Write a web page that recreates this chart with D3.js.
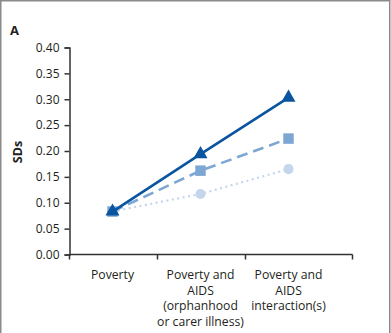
<!DOCTYPE html>
<html><head><meta charset="utf-8">
<script src="https://cdn.jsdelivr.net/npm/d3@7"></script>
<style>
html,body{margin:0;padding:0;background:#fff;}
svg{display:block;font-family:"Open Sans",sans-serif;}
</style></head>
<body>
<svg id="c" width="391" height="333"></svg>
<script>
const categories = ["Poverty", "Poverty and AIDS (orphanhood or carer illness)", "Poverty and AIDS interaction(s)"];
const categoryLines = [["Poverty"], ["Poverty and", "AIDS", "(orphanhood", "or carer illness)"], ["Poverty and", "AIDS", "interaction(s)"]];
const seriesTriangle = [0.083, 0.194, 0.303];
const seriesSquare = [0.083, 0.162, 0.224];
const seriesCircle = [0.083, 0.117, 0.165];
const yTicks = [0, 0.05, 0.10, 0.15, 0.20, 0.25, 0.30, 0.35, 0.40];

const svg = d3.select("#c");
// frame
svg.append("path").attr("d","M0.75,333 V0.75 H389.75 V333").attr("fill","none").attr("stroke","#8a8a8a").attr("stroke-width",1.5);

const x0 = 69.5, xEnd = 352.5, y0 = 254.5, yTop = 47.5;
const x = d3.scaleBand().domain(categories).range([x0, x0 + 88*3]).padding(0);
const y = d3.scaleLinear().domain([0, 0.40]).range([y0, yTop]);
const cx = c => x(c) + x.bandwidth()/2 - 1;

// y axis
const yAxis = svg.append("g").attr("transform",`translate(${x0},0)`)
  .call(d3.axisLeft(y).tickValues(yTicks).tickFormat(d3.format(".2f")).tickSize(5).tickPadding(5));
yAxis.select(".domain").attr("stroke","#333").attr("stroke-width",1.5);
yAxis.selectAll(".tick line").attr("stroke","#333").attr("stroke-width",1.5);
yAxis.selectAll(".tick text").attr("font-family","Open Sans").attr("font-size",12).attr("fill","#231f20");

// x axis
const xg = svg.append("g");
xg.append("line").attr("x1",x0).attr("x2",xEnd).attr("y1",y0).attr("y2",y0).attr("stroke","#333").attr("stroke-width",1.5);
const tickXs = categories.map(c => x(c)).concat([xEnd]);
xg.selectAll("line.t").data(tickXs).join("line").attr("class","t")
  .attr("x1",d=>d).attr("x2",d=>d).attr("y1",y0).attr("y2",y0+5).attr("stroke","#333").attr("stroke-width",1.5);
categories.forEach((c,i)=>{
  const t = xg.append("text").attr("text-anchor","middle").attr("font-size",12.2).attr("fill","#231f20");
  categoryLines[i].forEach((ln,j)=>{
    t.append("tspan").attr("x",cx(c)).attr("y",279 + j*15.5).text(ln);
  });
});

// labels
svg.append("text").attr("x",10).attr("y",35).attr("font-size",13).attr("font-weight","bold").attr("fill","#231f20").text("A");
svg.append("text").attr("transform","translate(22,152) rotate(-90)").attr("text-anchor","middle")
  .attr("font-size",12.5).attr("font-weight","bold").attr("fill","#231f20").text("SDs");

const line = d3.line().x((d,i)=>cx(categories[i])).y(d=>y(d));
const series = [
  {vals: seriesCircle, color:"#c3d6ec", dash:"2,3.5", w:2.2, shape:"circle"},
  {vals: seriesSquare, color:"#7ea6d3", dash:"11,6", w:2.6, shape:"square"},
  {vals: seriesTriangle, color:"#0b55a0", dash:null, w:2.6, shape:"triangle"}
];
series.forEach(s=>{
  svg.append("path").datum(s.vals).attr("d",line).attr("fill","none").attr("stroke",s.color)
    .attr("stroke-width",s.w).attr("stroke-dasharray",s.dash);
  const sym = s.shape==="circle" ? d3.symbol(d3.symbolCircle, 80) :
              s.shape==="square" ? d3.symbol(d3.symbolSquare, 110) : d3.symbol(d3.symbolTriangle, 85);
  svg.selectAll(null).data(s.vals).join("path")
    .attr("transform",(d,i)=>`translate(${cx(categories[i])},${y(d)})`)
    .attr("d",sym).attr("fill",s.color);
});
</script>
</body></html>
